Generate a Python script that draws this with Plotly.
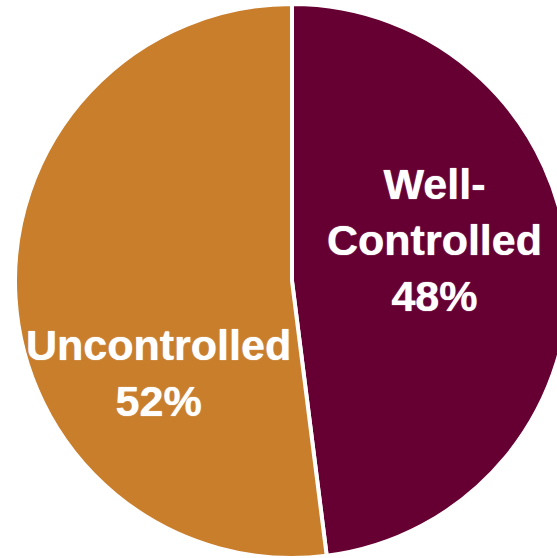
import plotly.graph_objects as go

# Share of patients by control status
labels = ["Well-Controlled", "Uncontrolled"]
label_lines = ["Well-<br>Controlled", "Uncontrolled"]
shares = [48, 52]
colors = ["#660033", "#C97E2C"]

W, H = 580, 560
cx, cy, r = 292, 281, 277

fig = go.Figure(
    go.Pie(
        labels=labels,
        values=shares,
        sort=False,
        direction="clockwise",
        rotation=0,
        textinfo="none",
        hoverinfo="label+percent",
        marker=dict(colors=colors, line=dict(color="white", width=4)),
        domain=dict(x=[(cx - r) / W, (cx + r) / W], y=[1 - (cy + r) / H, 1 - (cy - r) / H]),
        showlegend=False,
    )
)

# label centres in pixels (x, y of block middle)
label_pos = [(434, 240), (158, 373)]
for name, val, (px, py) in zip(label_lines, shares, label_pos):
    fig.add_annotation(
        x=px / W, y=1 - py / H, xref="paper", yref="paper",
        xanchor="center", yanchor="middle",
        text=f"{name}<br>{val}%", showarrow=False,
        font=dict(family="Liberation Sans, Arial, sans-serif", size=43, color="white",
                  weight="bold", shadow="0 0 1px white"),
    )

fig.update_layout(
    width=W, height=H,
    margin=dict(l=0, r=0, t=0, b=0),
    paper_bgcolor="white",
    plot_bgcolor="white",
)

fig.write_html(
    "out.html",
    post_script="document.documentElement.style.overflow='hidden';"
                "document.body.style.overflow='hidden';document.body.style.margin='0';",
)
